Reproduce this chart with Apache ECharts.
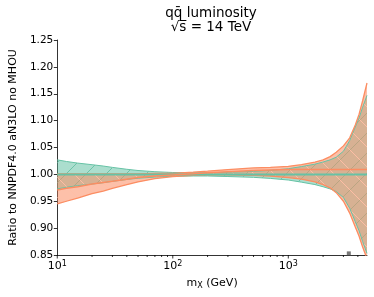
<!DOCTYPE html>
<html><head><meta charset="utf-8">
<script src="https://cdn.jsdelivr.net/npm/echarts@6/dist/echarts.min.js"></script>
<style>html,body{margin:0;padding:0;background:#fff}#c{width:374px;height:297px}</style>
</head><body><div id="c"></div>
<script>
const mass = [10,12,15,20,25,30,40,50,70,100,150,200,300,500,700,1000,1300,1700,2000,2300,2600,3000,3400,3800,4100,4400,4800];
const greenHigh = [1.027,1.024,1.021,1.018,1.0155,1.013,1.0095,1.0072,1.005,1.0035,1.003,1.003,1.004,1.0055,1.0075,1.0105,1.0145,1.019,1.023,1.027,1.032,1.043,1.063,1.088,1.105,1.125,1.147];
const greenLow  = [0.973,0.976,0.979,0.982,0.9845,0.987,0.9905,0.9928,0.995,0.9965,0.997,0.997,0.996,0.9945,0.9925,0.9895,0.9855,0.981,0.977,0.973,0.968,0.957,0.937,0.912,0.895,0.875,0.853];
const greenMid  = [1,1,1,1,1,1,1,1,1,1,1,1,1,1,1,1,1,1,1,1,1,1,1,1,1,1,1];
const orangeLow = [0.945,0.950,0.956,0.964,0.969,0.974,0.981,0.986,0.992,0.996,0.998,0.999,0.999,0.998,0.997,0.994,0.991,0.986,0.981,0.975,0.966,0.950,0.928,0.902,0.885,0.865,0.843];
const orangeMid = [0.971,0.974,0.977,0.982,0.985,0.987,0.991,0.994,0.997,0.999,1.001,1.003,1.005,1.007,1.008,1.009,1.009,1.009,1.009,1.009,1.009,1.009,1.009,1.009,1.009,1.009,1.009];
const orangeHigh= [1.001,1.001,1.001,1.001,1.001,1.001,1.001,1.001,1.002,1.002,1.004,1.006,1.009,1.012,1.013,1.015,1.018,1.023,1.027,1.033,1.041,1.053,1.068,1.092,1.112,1.137,1.170];
const xMajorTicks = [10,100,1000];
const xMinorTicks = [20,30,40,50,60,70,80,90,200,300,400,500,600,700,800,900,2000,3000,4000];
const markerPoint = [[3340,0.853]];
const xMin = 10, xMax = 4800, yMin = 0.85, yMax = 1.25, yStep = 0.05;

const GREEN = '#66c2a5', ORANGE = '#fc8d62';
const FONT = 'DejaVu Sans';

function hatch(bg, line, dir, size){
  const c = document.createElement('canvas'); c.width = size; c.height = size;
  const ctx = c.getContext('2d');
  ctx.fillStyle = bg; ctx.fillRect(0,0,size,size);
  ctx.strokeStyle = line; ctx.lineWidth = 1;
  ctx.beginPath();
  if (dir === '/') {
    ctx.moveTo(-1,size+1); ctx.lineTo(size+1,-1);
    ctx.moveTo(-2,1); ctx.lineTo(1,-2);
    ctx.moveTo(size-1,size+2); ctx.lineTo(size+2,size-1);
  } else {
    ctx.moveTo(-1,-1); ctx.lineTo(size+1,size+1);
    ctx.moveTo(size-1,-2); ctx.lineTo(size+2,1);
    ctx.moveTo(-2,size-1); ctx.lineTo(1,size+2);
  }
  ctx.stroke();
  return {image: c, repeat: 'repeat'};
}

function band(low, high, fill, z){
  return {
    type:'custom', coordinateSystem:'cartesian2d', clip:true, silent:true, z:z,
    data: mass.map((m,i)=>[m, high[i]]),
    renderItem:(params, api)=>{
      if (params.dataIndex !== 0) return null;
      const pts = [];
      for (let i=0;i<mass.length;i++) pts.push(api.coord([mass[i], high[i]]));
      for (let i=mass.length-1;i>=0;i--) pts.push(api.coord([mass[i], low[i]]));
      return {type:'polygon', shape:{points:pts}, style:{fill:fill}};
    }
  };
}
function line(vals, color, width, z){
  return {type:'line', data: mass.map((m,i)=>[m, vals[i]]), showSymbol:false, symbol:'none',
    lineStyle:{color:color, width:width}, z:z, silent:true, animation:false};
}
function ticks(vals, len, z){
  return {type:'custom', coordinateSystem:'cartesian2d', clip:false, silent:true, z:z,
    data: vals.map(v=>[v, yMin]),
    renderItem:(params, api)=>{
      const p = api.coord([api.value(0), yMin]);
      return {type:'line', shape:{x1:p[0], y1:p[1], x2:p[0], y2:p[1]+len}, style:{stroke:'#000', lineWidth:0.8}};
    }};
}

const chart = echarts.init(document.getElementById('c'), null, {renderer:'canvas'});
chart.setOption({
  animation:false,
  grid:{left:55, right:7, top:40, bottom:42},
  title:{text:'qq\u0304 luminosity\n\u221as\u0305 = 14 TeV', left:211, top:6, textAlign:'center', padding:0,
    textStyle:{fontFamily:FONT, fontSize:13.5, fontWeight:'normal', color:'#000', lineHeight:14.5}},
  xAxis:{type:'log', min:xMin, max:xMax, logBase:10,
    name:'m{s|X} (GeV)', nameLocation:'middle', nameGap:21,
    nameTextStyle:{fontFamily:FONT, fontSize:11, color:'#000', rich:{s:{fontFamily:FONT, fontSize:8, color:'#000', verticalAlign:'bottom', padding:[6,0,0,0]}}},
    axisLine:{lineStyle:{color:'#000', width:0.8}},
    axisTick:{show:false}, splitLine:{show:false}, minorTick:{show:false},
    axisLabel:{margin:5, fontFamily:FONT, fontSize:11, color:'#000',
      formatter:(v)=>{const e=Math.log10(v); const r=Math.round(e); if (Math.abs(e-r)<1e-6) return '10{s|'+r+'}'; return '';},
      rich:{s:{fontFamily:FONT, fontSize:8, color:'#000', verticalAlign:'top', padding:[0,0,5,0]}}}
  },
  yAxis:{type:'value', min:yMin, max:yMax, interval:yStep,
    name:'Ratio to NNPDF4.0 aN3LO no MHOU', nameLocation:'middle', nameGap:36,
    nameTextStyle:{fontFamily:FONT, fontSize:11, color:'#000'},
    axisLine:{show:true, lineStyle:{color:'#000', width:0.8}},
    axisTick:{show:true, length:3.5, lineStyle:{color:'#000', width:0.8}},
    splitLine:{show:false},
    axisLabel:{margin:4, fontFamily:FONT, fontSize:10.5, color:'#000', formatter:(v)=>v.toFixed(2)}
  },
  series:[
    band(greenLow, greenHigh, hatch('rgba(102,194,165,0.55)','rgba(102,194,165,0.9)','/',20), 2),
    band(orangeLow, orangeHigh, hatch('rgba(252,141,98,0.55)','rgba(255,190,165,0.95)','\\',20), 3),
    line(greenHigh, GREEN, 1, 4), line(greenLow, GREEN, 1, 4),
    line(orangeHigh, ORANGE, 1.3, 5), line(orangeLow, ORANGE, 1.3, 5),
    line(greenMid, GREEN, 2, 6), line(orangeMid, ORANGE, 1.5, 7),
    ticks(xMajorTicks, 3.5, 8), ticks(xMinorTicks, 2, 8),
    {type:'scatter', data:markerPoint, symbol:'rect', symbolSize:4, itemStyle:{color:'#555'}, z:9, silent:true}
  ]
});
</script></body></html>
